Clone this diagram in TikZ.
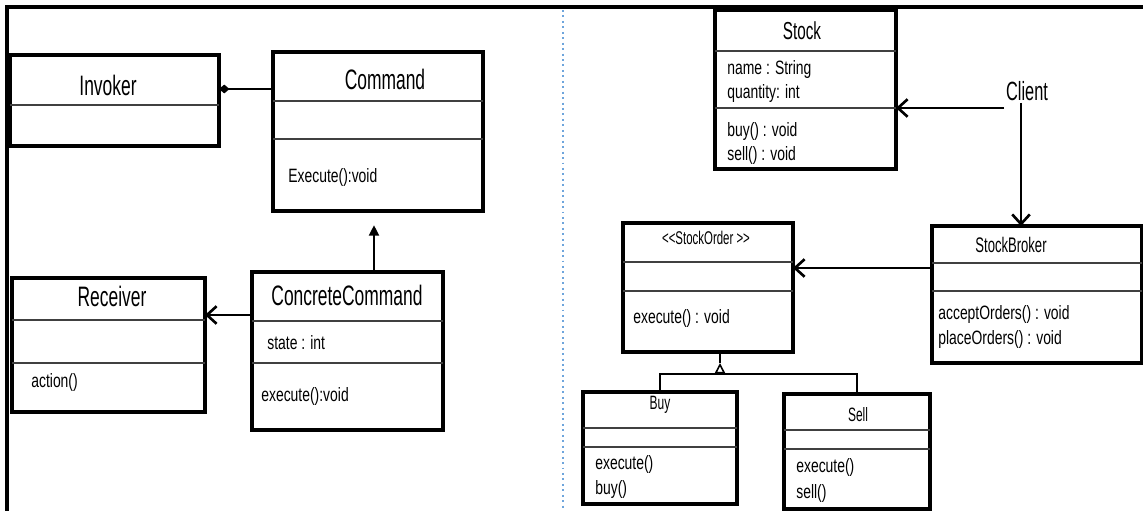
\documentclass[tikz,border=0pt]{standalone}
\usepackage{fontspec}
\setmainfont{Liberation Sans}[FakeStretch=0.72]
\newfontfamily\ttlfont{Liberation Sans}[FakeStretch=0.62]
\usetikzlibrary{arrows.meta}
\definecolor{sepblue}{RGB}{110,165,220}

\begin{document}
\begin{tikzpicture}[x=0.02cm,y=-0.02cm,
	cls/.style={draw,line width=1.8pt,inner sep=0pt,outer sep=0pt},
	div/.style={line width=1pt,black!75},
	ttl/.style={inner sep=1pt,font=\ttlfont\fontsize{#1}{#1}\selectfont},
	ttl/.default=16,
	txt/.style={anchor=west,inner sep=0pt,font=\fontsize{11}{13}\selectfont},
	con/.style={line width=1.5pt},
	assoc/.style={con,-{Straight Barb[length=5.5pt,width=10pt]}},
	gline/.style={line width=0.9pt}]
	\useasboundingbox (0,0) rectangle (1143,511);
	\draw[line width=2pt] (1143,7) -- (7,7) -- (7,511);
	\draw[sepblue,line width=1.1pt,dotted] (563,10) -- (563,511);
	% command pattern
	\node[cls,minimum width=4.18cm,minimum height=1.82cm] (inv) at (114.5,100.5) {};
	\node[cls,minimum width=4.2cm,minimum height=3.18cm] (cmd) at (378,131.5) {};
	\node[cls,minimum width=3.86cm,minimum height=2.68cm] (rcv) at (108.5,345) {};
	\node[cls,minimum width=3.82cm,minimum height=3.16cm] (cc) at (347.5,351) {};
	% stock example
	\node[cls,minimum width=3.62cm,minimum height=3.18cm] (stock) at (805.5,89.5) {};
	\node[cls,minimum width=3.4cm,minimum height=2.58cm] (order) at (708,287.5) {};
	\node[cls,minimum width=4.2cm,minimum height=2.74cm] (broker) at (1037,294.5) {};
	\node[cls,minimum width=3.08cm,minimum height=2.24cm] (buy) at (660,448) {};
	\node[cls,minimum width=2.92cm,minimum height=2.3cm] (sell) at (857,451.5) {};
	\foreach \b/\y in {inv/105, cmd/101, cmd/139, rcv/320, rcv/363, cc/321, cc/363,
		stock/51, stock/108, order/262, order/291, broker/263, broker/291,
		buy/428, buy/447, sell/430, sell/449}
		\draw[div] (\b.west |- 0,\y) -- (\b.east |- 0,\y);
	
	\node[ttl] (invT) at (108,85) {Invoker};
	\node[ttl] (cmdT) at (385,79) {Command};
	\node[txt] (cmdM) at (288,177) {Execute():void};
	\node[ttl] (rcvT) at (112,296) {Receiver};
	\node[txt] (rcvM) at (31,382) {action()};
	\node[ttl] (ccT) at (347,295) {ConcreteCommand};
	\node[txt] (ccA) at (267,343) {state : int};
	\node[txt] (ccM) at (261,396) {execute():void};
	
	\node[ttl=14] (stockT) at (802,31) {Stock};
	\node[txt] (stockA1) at (727,69) {name : String};
	\node[txt] (stockA2) at (727,93) {quantity: int};
	\node[txt] (stockM1) at (727,131) {buy() : void};
	\node[txt] (stockM2) at (727,155) {sell() : void};
	\node[ttl=15] (client) at (1027,91) {Client};
	\node[ttl=10.5] (orderT) at (706,238) {<<StockOrder >>};
	\node[txt] (orderM) at (633,318) {execute() : void};
	\node[ttl=12] (brokerT) at (1011,245) {StockBroker};
	\node[txt] (brokerM1) at (938,314) {acceptOrders() : void};
	\node[txt] (brokerM2) at (938,339) {placeOrders() : void};
	\node[ttl=11] (buyT) at (660,405) {Buy};
	\node[txt] (buyM1) at (595,464) {execute()};
	\node[txt] (buyM2) at (595,489) {buy()};
	\node[ttl=11] (sellT) at (858,415) {Sell};
	\node[txt] (sellM1) at (796,467) {execute()};
	\node[txt] (sellM2) at (796,493) {sell()};
	
	\draw[con,{Diamond[length=6pt,width=5pt]}-] (inv.east |- 0,89) -- (cmd.west |- 0,89);
	\draw[con,-{Triangle[length=6pt,width=5.5pt]},shorten >=8pt] (cc.north -| 374,0) -- (cmd.south -| 374,0);
	\draw[assoc] (cc.west |- 0,315) -- (rcv.east |- 0,315);
	\draw[assoc] (client.west |- 0,108) -- (stock.east |- 0,108);
	\draw[assoc] (client.south -| 1021,0) -- (broker.north -| 1021,0);
	\draw[assoc] (broker.west |- 0,268) -- (order.east |- 0,268);
	\coordinate (gen) at (720,374);
	\draw[gline] (buy.north) |- (gen) -| (sell.north);
	\draw[gline,-{Triangle[open,length=6pt,width=6pt]}] (gen) -- ++(0,-11) coordinate (apex);
	\draw[gline] (apex) -- (order.south -| gen);
	
\end{tikzpicture}
\end{document}
